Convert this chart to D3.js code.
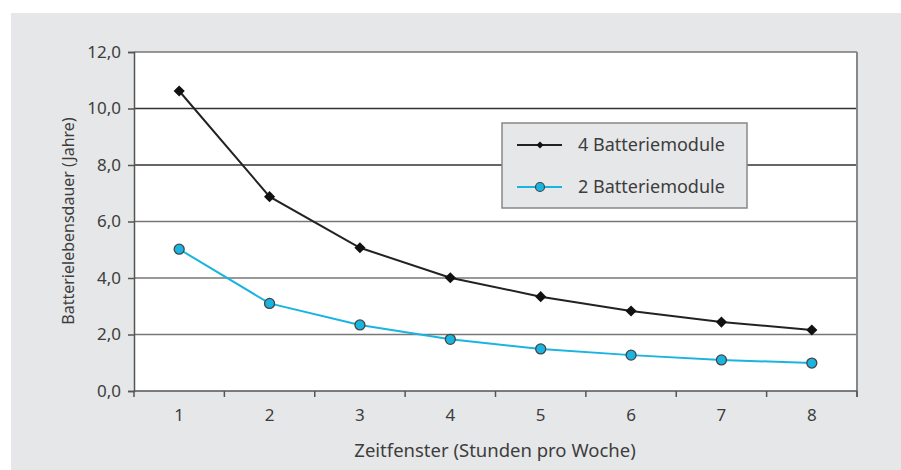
<!DOCTYPE html>
<html>
<head>
<meta charset="utf-8">
<script src="https://cdn.jsdelivr.net/npm/d3@7"></script>
<style>
  body { margin: 0; background: #fff; }
  svg text { font-family: "Noto Sans", Lato, sans-serif; fill: #3d3d3d; }
</style>
</head>
<body>
<div id="chart"></div>
<script>
// data
const categories = ["1", "2", "3", "4", "5", "6", "7", "8"];
const fourModules = [10.62, 6.88, 5.07, 4.01, 3.34, 2.83, 2.44, 2.16];
const twoModules = [5.02, 3.10, 2.34, 1.83, 1.49, 1.27, 1.10, 0.99];
const yTicks = [0, 2, 4, 6, 8, 10, 12];
const seriesNames = ["4 Batteriemodule", "2 Batteriemodule"];

const W = 901, H = 470;
const margin = { top: 52, right: 44, bottom: 79, left: 134 };
const width = W - margin.left - margin.right;
const height = H - margin.top - margin.bottom;

const svg = d3.select("#chart").append("svg")
  .attr("width", W).attr("height", H);

// grey panel
svg.append("rect")
  .attr("x", 11).attr("y", 13)
  .attr("width", W - 11).attr("height", H - 13)
  .attr("fill", "#e6e7e8");

const g = svg.append("g")
  .attr("transform", `translate(${margin.left},${margin.top})`);

const x = d3.scaleBand().domain(categories).range([0, width]);
const y = d3.scaleLinear().domain([0, 12]).range([height, 0]);

g.append("rect")
  .attr("width", width).attr("height", height)
  .attr("fill", "#fff");

// gridlines
g.append("g")
  .selectAll("line")
  .data(yTicks.filter((d) => d > 0))
  .enter()
  .append("line")
  .attr("x1", 0).attr("x2", width)
  .attr("y1", (d) => y(d)).attr("y2", (d) => y(d))
  .attr("stroke", (d) => (d === 8 || d === 10 ? "#333" : "#777"))
  .attr("stroke-width", 1.5);

// right border
g.append("line")
  .attr("x1", width).attr("x2", width)
  .attr("y1", 0).attr("y2", height + 6)
  .attr("stroke", "#888").attr("stroke-width", 2);

// y axis
const yAxis = g.append("g")
  .call(d3.axisLeft(y).tickValues(yTicks).tickSize(6).tickPadding(7)
    .tickFormat((d) => d3.format(".1f")(d).replace(".", ",")));
yAxis.select(".domain").attr("stroke", "#555").attr("stroke-width", 1.5);
yAxis.selectAll(".tick line").attr("stroke", "#555").attr("stroke-width", 1.5);
yAxis.selectAll("text").style("font-size", "17px").attr("fill", "#3d3d3d");

// x axis: ticks at band boundaries
const xAxis = g.append("g").attr("transform", `translate(0,${height})`);
xAxis.append("line")
  .attr("x1", 0).attr("x2", width)
  .attr("stroke", "#555").attr("stroke-width", 1.5);
xAxis.selectAll(".xtick")
  .data(categories.concat(["end"]))
  .enter()
  .append("line")
  .attr("x1", (d, i) => i * x.step()).attr("x2", (d, i) => i * x.step())
  .attr("y1", 0).attr("y2", 6)
  .attr("stroke", "#555").attr("stroke-width", 1.5);
xAxis.selectAll(".xlabel")
  .data(categories)
  .enter()
  .append("text")
  .attr("x", (d) => x(d) + x.bandwidth() / 2)
  .attr("y", 30)
  .attr("text-anchor", "middle")
  .style("font-size", "17px")
  .text((d) => d);

// axis titles
svg.append("text")
  .attr("x", 495)
  .attr("y", 457)
  .attr("text-anchor", "middle")
  .style("font-size", "18.5px")
  .text("Zeitfenster (Stunden pro Woche)");

svg.append("text")
  .attr("transform", "translate(74,221) rotate(-90)")
  .attr("text-anchor", "middle")
  .style("font-size", "16px")
  .text("Batterielebensdauer (Jahre)");

const cx = (i) => x(categories[i]) + x.bandwidth() / 2;

// series lines
const line = d3.line().x((d, i) => cx(i)).y((d) => y(d));

g.append("path")
  .datum(twoModules)
  .attr("d", line)
  .attr("fill", "none")
  .attr("stroke", "#1ab4e0")
  .attr("stroke-width", 2);

g.append("path")
  .datum(fourModules)
  .attr("d", line)
  .attr("fill", "none")
  .attr("stroke", "#222")
  .attr("stroke-width", 2);

g.selectAll(".diamond")
  .data(fourModules)
  .enter()
  .append("path")
  .attr("transform", (d, i) => `translate(${cx(i)},${y(d)}) rotate(45)`)
  .attr("d", d3.symbol().type(d3.symbolSquare).size(62))
  .attr("fill", "#111");

g.selectAll(".dot")
  .data(twoModules)
  .enter()
  .append("circle")
  .attr("cx", (d, i) => cx(i))
  .attr("cy", (d) => y(d))
  .attr("r", 5)
  .attr("fill", "#1ab4e0")
  .attr("stroke", "#444")
  .attr("stroke-width", 1.3);

// legend
const legend = svg.append("g").attr("transform", "translate(502,123)");
legend.append("rect")
  .attr("width", 245).attr("height", 85)
  .attr("fill", "#e6e7e8")
  .attr("stroke", "#888").attr("stroke-width", 1.5);

const legendRows = legend.selectAll(".legend-item")
  .data(seriesNames)
  .enter()
  .append("g")
  .attr("class", "legend-item")
  .attr("transform", (d, i) => `translate(0,${22 + i * 42})`);

legendRows.append("line")
  .attr("x1", 15).attr("x2", 60)
  .attr("stroke", (d, i) => (i === 0 ? "#222" : "#1ab4e0"))
  .attr("stroke-width", 2);

legendRows.each(function (d, i) {
  const row = d3.select(this);
  if (i === 0) {
    row.append("path")
      .attr("transform", "translate(38,0) rotate(45)")
      .attr("d", d3.symbol().type(d3.symbolSquare).size(24))
      .attr("fill", "#111");
  } else {
    row.append("circle")
      .attr("cx", 38).attr("r", 4.5)
      .attr("fill", "#1ab4e0")
      .attr("stroke", "#444").attr("stroke-width", 1.2);
  }
});

legendRows.append("text")
  .attr("x", 76).attr("dy", "0.35em")
  .style("font-size", "18px")
  .text((d) => d);
</script>
</body>
</html>
